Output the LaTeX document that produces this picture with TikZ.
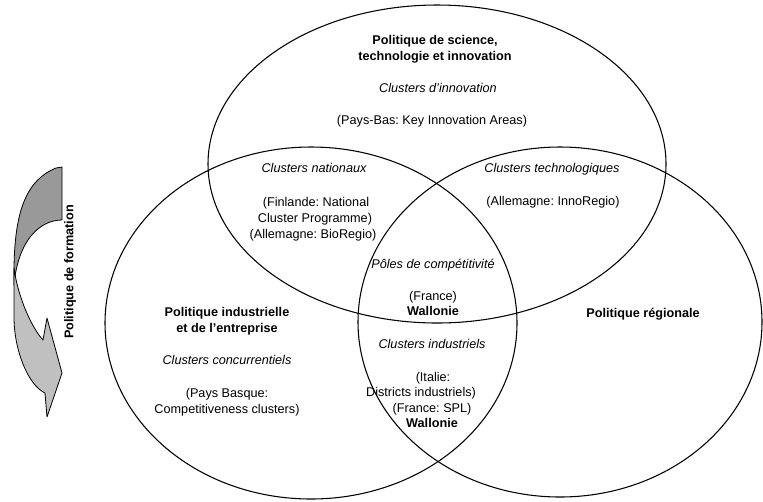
\documentclass[tikz,border=0pt]{standalone}
\usepackage{fontspec}
\setmainfont{Liberation Sans}
\usepackage{tikz}
\usetikzlibrary{arrows}
\usetikzlibrary{positioning}
\usetikzlibrary{shapes.geometric}
\definecolor{backgray}{RGB}{153,153,153}
\definecolor{frontgray}{RGB}{192,192,192}
\newcommand{\vennfont}{\fontsize{9.5}{11.25}\selectfont}
\tikzstyle{every node}+=[inner sep=0pt]
\tikzstyle{venn} = [ellipse, draw, line width=0.8pt]
\tikzstyle{head} = [font=\vennfont\bfseries, anchor=base]
\tikzstyle{kind} = [font=\vennfont\itshape, anchor=base]
\tikzstyle{case} = [font=\vennfont, anchor=base]
\tikzstyle{band} = [draw, line width=0.6pt, line join=round]
\frenchspacing

\begin{document}
\begin{tikzpicture}[x=0.75pt, y=-0.75pt]
            \useasboundingbox (0,0) rectangle (763,501);
            % Place sets
            \node [venn, minimum width=343.5pt, minimum height=238.5pt] (sti) at (437,164) {};
            \node [venn, minimum width=309pt, minimum height=264pt] (ind) at (311,323) {};
            \node [venn, minimum width=303pt, minimum height=262.5pt] (reg) at (560,322) {};
            % Science, technologie et innovation
            \node [head] (sti1) at (435,44) {Politique de science,};
            \node [head] (sti2) at (435,60) {technologie et innovation};
            \node [kind] (sti3) at (438,92) {Clusters d'innovation};
            \node [case] (sti4) at (432,124) {(Pays-Bas: Key Innovation Areas)};
            % Clusters nationaux
            \node [kind] (nat1) at (314,172) {Clusters nationaux};
            \node [case] (nat2) at (316,206) {(Finlande: National};
            \node [case] (nat3) at (315,222) {Cluster Programme)};
            \node [case] (nat4) at (313,238) {(Allemagne: BioRegio)};
            % Clusters technologiques
            \node [kind] (tec1) at (552,172) {Clusters technologiques};
            \node [case] (tec2) at (553,205) {(Allemagne: InnoRegio)};
            % Poles de competitivite
            \node [kind] (pol1) at (433,268) {P\^oles de comp\'etitivit\'e};
            \node [case] (pol2) at (433,300) {(France)};
            \node [head] (pol3) at (433,315) {Wallonie};
            % Politique industrielle
            \node [head] (ind1) at (227,316) {Politique industrielle};
            \node [head] (ind2) at (227,332) {et de l'entreprise};
            \node [kind] (ind3) at (227,364) {Clusters concurrentiels};
            \node [case] (ind4) at (227,397) {(Pays Basque:};
            \node [case] (ind5) at (227,413) {Competitiveness clusters)};
            % Clusters industriels
            \node [kind] (cin1) at (432,348) {Clusters industriels};
            \node [case] (cin2) at (433,381) {(Italie:};
            \node [case] (cin3) at (421,396) {Districts industriels)};
            \node [case] (cin4) at (432,412) {(France: SPL)};
            \node [head] (cin5) at (432,427) {Wallonie};
            % Politique regionale
            \node [head] (reg1) at (643,317) {Politique r\'egionale};
            % Formation arrow
            \path [band, fill=backgray] (56,168) -- (62,167) -- (62,220)
                .. controls (40,220) and (18,240) .. (14,285)
                .. controls (13,220) and (22,182) .. (56,168) -- cycle;
            \path [band, fill=frontgray] (14,268) -- (14,317)
                .. controls (14,350) and (28,385) .. (45,393)
                -- (47,417) -- (62,373) -- (47,318) -- (43,340)
                .. controls (32,328) and (18,298) .. (14,268) -- cycle;
            \node [head, anchor=center, rotate=90] (form) at (70,272) {Politique de formation};
\end{tikzpicture}
\end{document}
